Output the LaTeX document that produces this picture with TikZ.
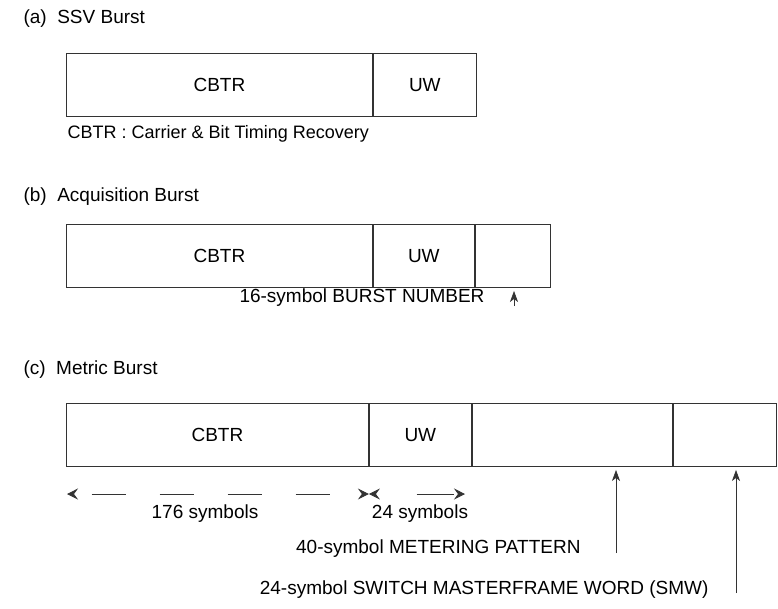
\documentclass[tikz,border=0pt]{standalone}
\usepackage{fontspec}
\setmainfont{Liberation Sans}
\usetikzlibrary{arrows.meta, positioning}
\colorlet{boxline}{black!80}

\begin{document}
\begin{tikzpicture}[x=1pt, y=-1pt,
    every node/.style={font=\fontsize{19}{22}\selectfont},
    cell/.style={draw=boxline, line width=0.9pt, minimum height=63pt, inner sep=0pt, anchor=west},
    title/.style={anchor=west},
    pointer/.style={draw=boxline, line width=0.7pt, -{Stealth[length=11pt, width=8pt, inset=3pt]}, shorten >=3pt},
    span/.style={draw=boxline, line width=0.8pt, {Stealth[length=11pt, width=11pt, inset=4pt]}-{Stealth[length=11pt, width=11pt, inset=4pt]}}]
  \useasboundingbox (0,0) rectangle (778,608);

  % (a) SSV burst
  \node[title] (ttla) at (20,19) {(a)\ \ SSV Burst};
  \node[cell, minimum width=306pt] (acbtr) at (66,85) {CBTR};
  \node[cell, minimum width=103pt, right=0pt of acbtr] (auw) {UW};
  \node[title, font=\fontsize{18}{21}\selectfont] (anote) at (64,134) {CBTR : Carrier \& Bit Timing Recovery};

  % (b) acquisition burst
  \node[title] (ttlb) at (20,197) {(b)\ \ Acquisition Burst};
  \node[cell, minimum width=306pt] (bcbtr) at (66,256) {CBTR};
  \node[cell, minimum width=101pt, right=0pt of bcbtr] (buw) {UW};
  \node[cell, minimum width=75pt, right=0pt of buw] (bnum) {};
  \node[anchor=east] (bnumlbl) at (488,298) {16-symbol BURST NUMBER};
  \coordinate (bnumfoot) at (514,306);
  \draw[pointer] (bnumfoot) -- (bnumfoot |- bnum.south);

  % (c) metric burst
  \node[title] (ttlc) at (20,370) {(c)\ \ Metric Burst};
  \node[cell, minimum width=302pt] (ccbtr) at (66,435) {CBTR};
  \node[cell, minimum width=102pt, right=0pt of ccbtr] (cuw) {UW};
  \node[cell, minimum width=200pt, right=0pt of cuw] (cmet) {};
  \node[cell, minimum width=103pt, right=0pt of cmet] (csmw) {};

  % symbol counts
  \coordinate (s0) at (67,494);
  \coordinate (s1) at (ccbtr.east |- s0);
  \coordinate (s2) at (465,494);
  \draw[span, dash pattern=on 34pt off 34pt, dash phase=50pt] (s0) -- (s1);
  \draw[span, dash pattern=on 37pt off 41pt, dash phase=37pt] (s1) -- (s2);
  \node (n176) at (205,514) {176 symbols};
  \node (n24) at (420,514) {24 symbols};

  % pattern and word pointers
  \node[anchor=east] (metlbl) at (584,549) {40-symbol METERING PATTERN};
  \node[anchor=east] (smwlbl) at (712,590) {24-symbol SWITCH MASTERFRAME WORD (SMW)};
  \coordinate (metfoot) at (616,553);
  \coordinate (smwfoot) at (736,593);
  \draw[pointer] (metfoot) -- (metfoot |- cmet.south);
  \draw[pointer] (smwfoot) -- (smwfoot |- csmw.south);
\end{tikzpicture}
\end{document}
